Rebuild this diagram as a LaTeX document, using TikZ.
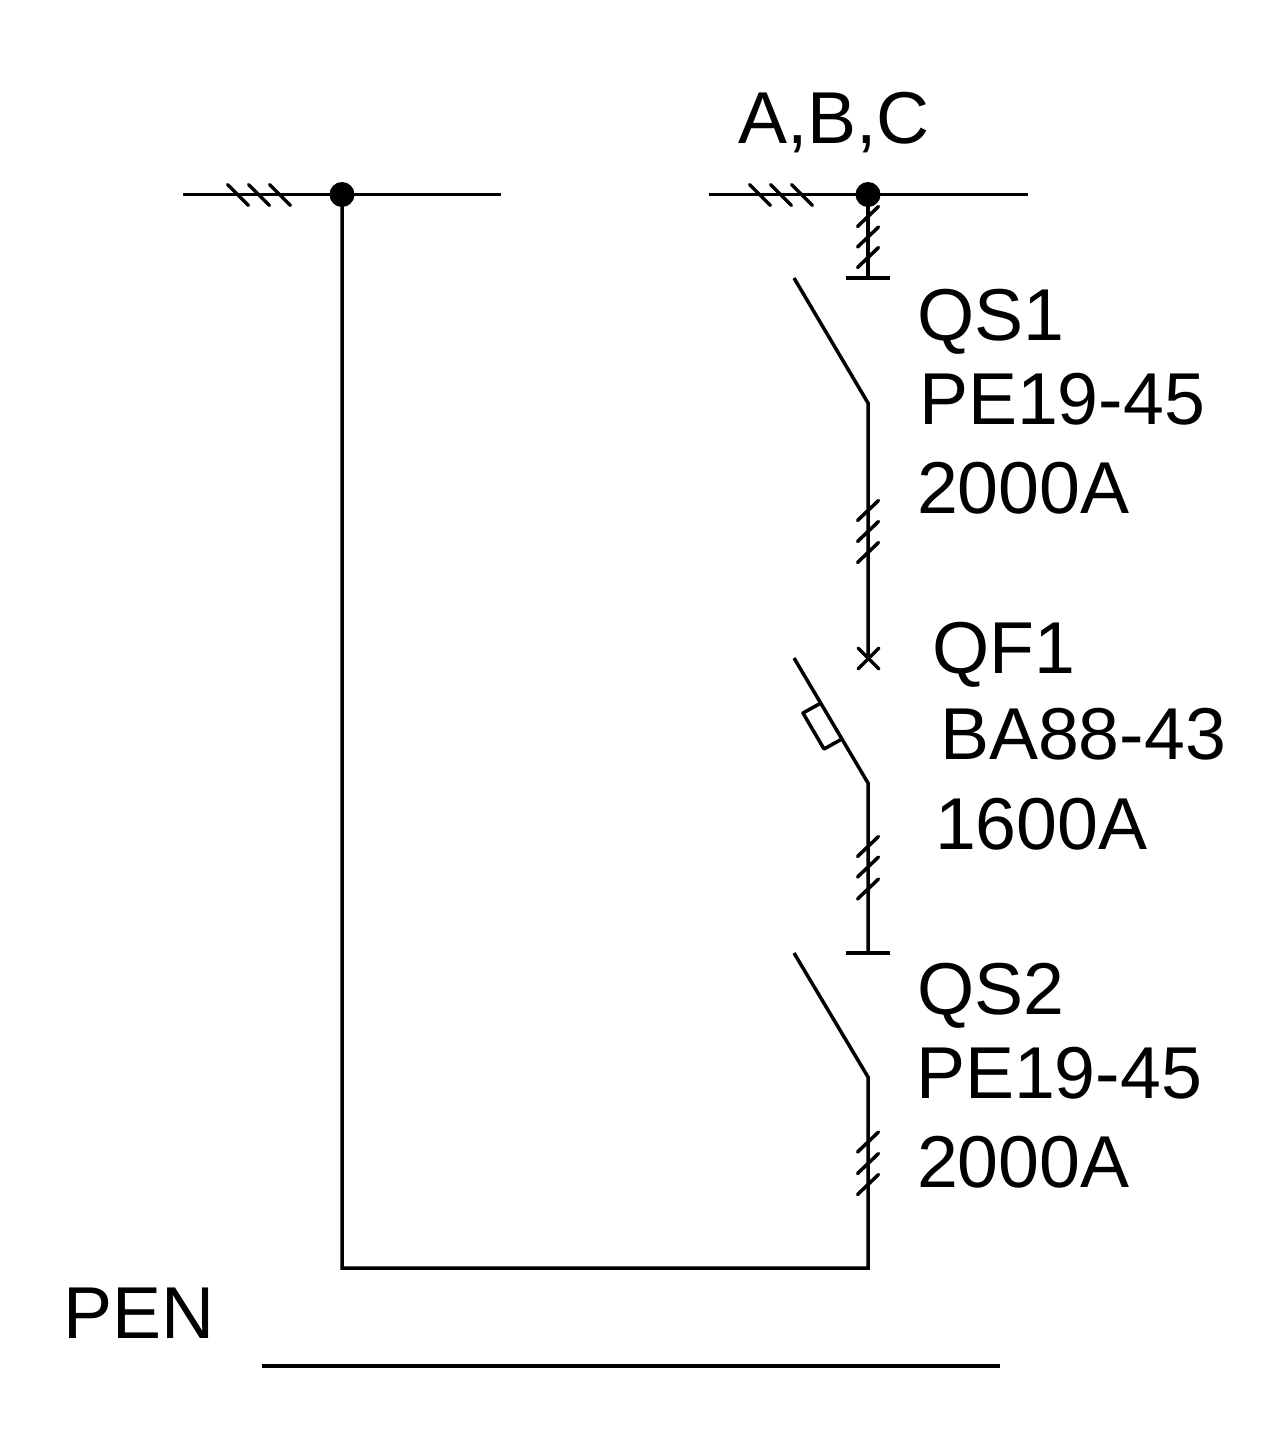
\documentclass[tikz,border=0pt]{standalone}
\usepackage{fontspec}
\setmainfont{Liberation Sans}
\tikzset{
  x=1pt,y=-1pt,
  wire/.style={line width=3.5pt,black},
  lbl/.style={anchor=base west,inner sep=0pt,outer sep=0pt,font=\fontsize{73.5}{73.5}\selectfont,text=black},
  junction/.style={circle,fill=black,draw=none,minimum size=25pt,inner sep=0pt},
  ticksv/.pic={\draw[wire,line cap=round] (-10.5,10) -- (10.5,-10);},
  ticksh/.pic={\draw[wire,line cap=round] (-10.5,-10.5) -- (10.5,10.5);}
}
\begin{document}
\begin{tikzpicture}
\useasboundingbox (0,0) rectangle (1280,1433);
\fill[white] (0,0) rectangle (1280,1433);
% bus bars
\coordinate (busLa) at (183,194.5);
\coordinate (busLb) at (501,194.5);
\coordinate (busRa) at (709,194.5);
\coordinate (busRb) at (1028,194.5);
\node[junction] (dotL) at (342,194.5) {};
\node[junction] (dotR) at (868,194.5) {};
\draw[wire] (busLa) -- (busLb);
\draw[wire] (busRa) -- (busRb);
% main chain points
\coordinate (t1) at (868,278);
\coordinate (t1a) at (846,278);
\coordinate (t1b) at (890,278);
\coordinate (s1top) at (794,278);
\coordinate (s1) at (868,403);
\coordinate (x1) at (868,658);
\coordinate (f1top) at (794,658);
\coordinate (f1) at (868,783);
\coordinate (t2) at (868,953);
\coordinate (t2a) at (846,953);
\coordinate (t2b) at (890,953);
\coordinate (s2top) at (794,953);
\coordinate (s2) at (868,1077);
\coordinate (corR) at (868,1268);
\coordinate (corL) at (342,1268);
\coordinate (penA) at (262,1366);
\coordinate (penB) at (1000,1366);
\draw[wire] (dotR.center) -- (t1);
\draw[wire] (t1a) -- (t1b);
\draw[wire] (s1top) -- (s1) -- (x1);
\draw[wire,line cap=round] (858,648) -- (879,669);
\draw[wire,line cap=round] (858,669) -- (879,648);
\draw[wire] (f1top) -- (f1) -- (t2);
\draw[wire] (t2a) -- (t2b);
\draw[wire] (s2top) -- (s2) -- (corR) -- (corL) -- (dotL.center);
\draw[wire] (penA) -- (penB);
% breaker release box
\draw[wire,line join=round] (821,703) -- (803,713) -- (824,749) -- (842,739);
% tick marks
\foreach \x in {238,259,280,760,781,802} \pic at (\x,195) {ticksh};
\foreach \y in {216.5,237,257.5,510.5,531.5,552.5,846.5,867,889,1142,1163.5,1184.5} \pic at (868,\y) {ticksv};
% labels
\node[lbl] (abc) at (738,143) {A,B,C};
\node[lbl] (qs1) at (917,340) {QS1};
\node[lbl] (pe1) at (919,424) {PE19-45};
\node[lbl] (a1) at (917,513) {2000A};
\node[lbl] (qf1) at (932,673) {QF1};
\node[lbl] (ba) at (940,759) {BA88-43};
\node[lbl] (a2) at (935,849) {1600A};
\node[lbl] (qs2) at (917,1014) {QS2};
\node[lbl] (pe2) at (916,1098) {PE19-45};
\node[lbl] (a3) at (917,1187) {2000A};
\node[lbl] (pen) at (63,1338) {PEN};
\end{tikzpicture}
\end{document}
